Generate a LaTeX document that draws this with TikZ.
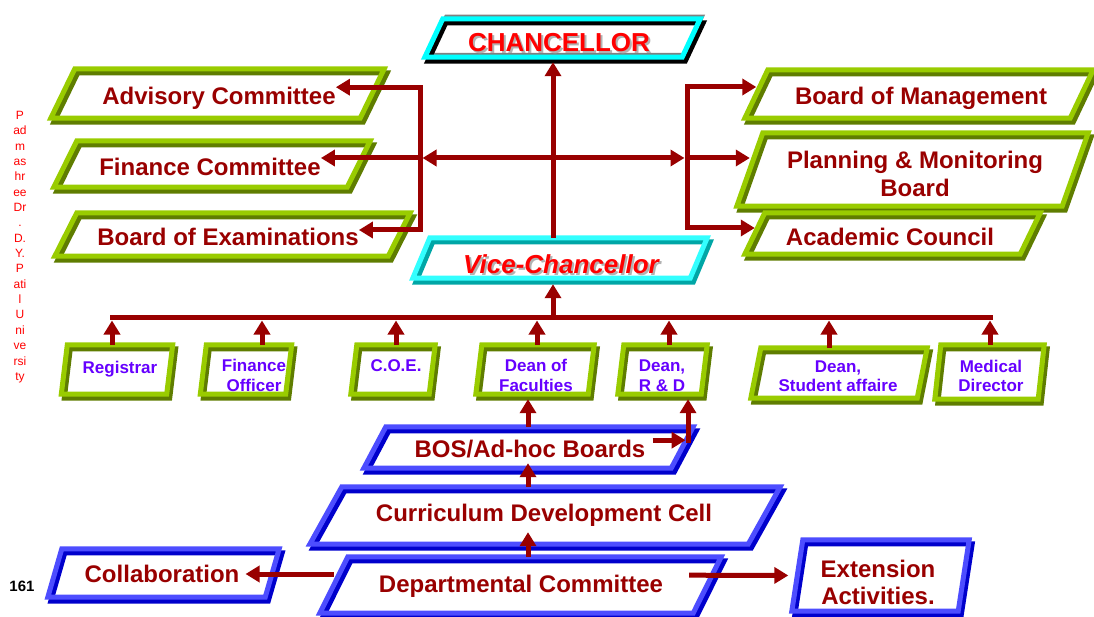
\documentclass[tikz,border=0pt]{standalone}
\usepackage{fontspec}
\setmainfont{Liberation Sans}
\usetikzlibrary{arrows.meta,backgrounds}
\definecolor{arrc}{RGB}{153,0,0}
\definecolor{purp}{RGB}{102,0,255}
\definecolor{glight}{RGB}{153,204,0}
\definecolor{gdark}{RGB}{95,125,0}
\definecolor{blight}{RGB}{77,77,255}
\definecolor{bdark}{RGB}{0,0,204}
\definecolor{clight}{RGB}{51,255,255}
\definecolor{cdark}{RGB}{0,166,166}
\definecolor{cyanc}{RGB}{0,255,255}
\definecolor{redc}{RGB}{255,0,0}
\newcommand\pgp[2]{([xshift={-0.5*#2}]#1.south west) -- ([xshift={0.5*#2}]#1.north west) -- ([xshift={0.5*#2}]#1.north east) -- ([xshift={-0.5*#2}]#1.south east) -- cycle}
\newcommand\frameit[4]{%
  \fill[white] \pgp{#1}{#2};
  \draw[#4, line width=5pt, line join=miter, transform canvas={xshift=3pt,yshift=-4pt}] \pgp{#1}{#2};
  \draw[#3, line width=5pt, line join=miter] \pgp{#1}{#2};}
\newcommand\shad[1]{\makebox[0pt][l]{\hspace{2pt}\raisebox{-2pt}{\color{black!30}#1}}#1}
\begin{document}
\begin{tikzpicture}[x=1pt,y=-1pt,
  big/.style={font=\fontsize{24}{28}\selectfont\bfseries, text=arrc, inner sep=0pt, align=center},
  one/.style={text height=17.2pt, text depth=0pt},
  sml/.style={font=\fontsize{17}{19.5}\selectfont\bfseries, text=purp, inner sep=0pt, align=center},
  sone/.style={text height=12.2pt, text depth=0pt},
  fr/.style={inner sep=0pt, draw=none},
  arr/.style={draw=arrc, line width=5pt, -{Triangle[length=14pt,width=16pt]}},
  barr/.style={draw=arrc, line width=5pt, line join=miter, {Triangle[length=14pt,width=16pt]}-{Triangle[length=14pt,width=16pt]}},
  ln/.style={draw=arrc, line width=5pt}]
\useasboundingbox (0,0) rectangle (1094,617);

% frames (named box nodes)
\node[fr, minimum width=257pt, minimum height=38pt] (chanF) at (562.5,38) {};
\node[fr, minimum width=309pt, minimum height=49pt] (advF) at (217.5,93.5) {};
\node[fr, minimum width=293pt, minimum height=46pt] (finF) at (212,164) {};
\node[fr, minimum width=333pt, minimum height=43pt] (boeF) at (232.5,234.5) {};
\node[fr, minimum width=325pt, minimum height=48pt] (bomF) at (919,94) {};
\node[fr, minimum width=325pt, minimum height=73pt] (pmbF) at (912.5,169.5) {};
\node[fr, minimum width=275pt, minimum height=41pt] (accF) at (892.5,233.5) {};
\node[fr, minimum width=277pt, minimum height=40pt] (vcF) at (560,258) {};
\node[fr, minimum width=105pt, minimum height=49pt] (regF) at (117,369.5) {};
\node[fr, minimum width=85pt, minimum height=49pt] (foF) at (246,369.5) {};
\node[fr, minimum width=78pt, minimum height=49pt] (coeF) at (393,369.5) {};
\node[fr, minimum width=112pt, minimum height=49pt] (dofF) at (535,369.5) {};
\node[fr, minimum width=83pt, minimum height=49pt] (drdF) at (662.5,369.5) {};
\node[fr, minimum width=166pt, minimum height=50pt] (dsaF) at (839,373) {};
\node[fr, minimum width=103pt, minimum height=54pt] (mdF) at (989.5,372) {};
\node[fr, minimum width=307pt, minimum height=41pt] (bosF) at (528.5,447.5) {};
\node[fr, minimum width=438pt, minimum height=57pt] (cdcF) at (545,515.5) {};
\node[fr, minimum width=373pt, minimum height=56pt] (dcF) at (520.5,585) {};
\node[fr, minimum width=217pt, minimum height=48pt] (colF) at (163.5,573) {};
\node[fr, minimum width=166pt, minimum height=71pt] (extF) at (880.5,575.5) {};

% texts
\node[big, one, font=\fontsize{26}{30}\selectfont\bfseries, text=redc, text height=18.6pt] (chan) at (559,42) {\shad{CHANCELLOR}};
\node[big, one] (adv) at (219,96) {Advisory Committee};
\node[big, one] (fin) at (210,167) {Finance Committee};
\node[big, one] (boe) at (228,237) {Board of Examinations};
\node[big, one] (bom) at (921,96) {Board of Management};
\node[big] (pmb) at (915,174) {Planning \& Monitoring\\Board};
\node[big, one] (acc) at (890,237) {Academic Council};
\node[big, one, font=\fontsize{26}{30}\selectfont\bfseries\itshape, text=redc, text height=18.6pt] (vc) at (561,264) {\shad{Vice-Chancellor}};
\node[sml, sone] (reg) at (120,367) {Registrar};
\node[sml] (fo) at (254,375.5) {Finance\\Officer};
\node[sml, sone] (coe) at (396,365) {C.O.E.};
\node[sml] (dof) at (536,375.5) {Dean of\\Faculties};
\node[sml] (drd) at (662,375.5) {Dean,\\R \& D};
\node[sml] (dsa) at (838,376) {Dean,\\Student affaire};
\node[sml] (md) at (991,376) {Medical\\Director};
\node[big, one] (bos) at (530,449) {BOS/Ad-hoc Boards};
\node[big, one] (cdc) at (544,513) {Curriculum Development Cell};
\node[big, one] (dc) at (521,584) {Departmental Committee};
\node[big, one] (col) at (162,574) {Collaboration};
\node[big, font=\fontsize{24}{27}\selectfont\bfseries] (ext) at (878,582.5) {Extension\\Activities.};
\node[font=\fontsize{15}{18}\selectfont\bfseries, inner sep=0pt] (num) at (22,586) {161};
\node[font=\fontsize{12}{15.35}\selectfont, text=redc, align=center, inner sep=0pt] (side) at (20,247)
  {P\\ad\\m\\as\\hr\\ee\\Dr\\.\\D.\\Y.\\P\\ati\\l\\U\\ni\\ve\\rsi\\ty};

% frames drawn behind
\begin{scope}[on background layer]
  \fill[white] \pgp{chanF}{18};
  \draw[gray, line width=2.5pt, line join=miter, transform canvas={xshift=3pt,yshift=3pt}] \pgp{chanF}{18};
  \draw[black, line width=5pt, line join=miter, transform canvas={xshift=3pt,yshift=-4pt}] \pgp{chanF}{18};
  \draw[cyanc, line width=5pt, line join=miter] \pgp{chanF}{18};
  \frameit{advF}{24}{glight}{gdark}
  \frameit{finF}{23}{glight}{gdark}
  \frameit{boeF}{22}{glight}{gdark}
  \frameit{bomF}{23}{glight}{gdark}
  \frameit{pmbF}{26}{glight}{gdark}
  \frameit{accF}{20}{glight}{gdark}
  \frameit{vcF}{17}{clight}{cdark}
  \frameit{regF}{6}{glight}{gdark}
  \frameit{foF}{6}{glight}{gdark}
  \frameit{coeF}{6}{glight}{gdark}
  \frameit{dofF}{6}{glight}{gdark}
  \frameit{drdF}{6}{glight}{gdark}
  \frameit{dsaF}{10}{glight}{gdark}
  \frameit{mdF}{6}{glight}{gdark}
  \frameit{bosF}{22}{blight}{bdark}
  \frameit{cdcF}{32}{blight}{bdark}
  \frameit{dcF}{28}{blight}{bdark}
  \frameit{colF}{14}{blight}{bdark}
  \frameit{extF}{11}{blight}{bdark}
\end{scope}

% junction coordinates
\coordinate (sp) at (553,158);
\coordinate (lb) at (420,158);
\coordinate (lbT) at (lb |- adv.north east);
\coordinate (lbB) at (420,230);
\coordinate (rb) at (687,158);
\coordinate (rbT) at (687,87);
\coordinate (rbB) at (687,228);
\coordinate (b1) at (112,318);
\coordinate (b2) at (262,318);
\coordinate (b3) at (396,318);
\coordinate (b4) at (537,318);
\coordinate (b5) at (669,318);
\coordinate (b6) at (829,318);
\coordinate (b7) at (990,318);
\coordinate (cA) at (528,449);
\coordinate (bc) at ([xshift=42.5pt]bos.north east);

% upper connectors
\draw[arr, shorten >=5pt] (sp |- vcF.north) -- (sp |- chanF.south);
\draw[arr, shorten >=2.5pt] (sp) -- (lb);
\draw[arr, shorten >=2.5pt] (sp) -- (rb);
\draw[barr] (adv.north east) -- (lbT) -- (lbB) -- (boe.east |- lbB);
\draw[arr] (lb) -- (fin.east |- lb);
\draw[barr] (bomF.west |- rbT) -- (rbT) -- (rbB) -- (accF.west |- rbB);
\draw[arr] (rb) -- (pmbF.west |- rb);

% bus
\draw[ln, line cap=rect] (b1) -- (b7);
\draw[arr, shorten >=6pt] (sp |- b1) -- (sp |- vcF.south);
\draw[arr, shorten >=2.5pt] (b1 |- regF.north) -- (b1);
\draw[arr, shorten >=2.5pt] (b2 |- foF.north) -- (b2);
\draw[arr, shorten >=2.5pt] (b3 |- coeF.north) -- (b3);
\draw[arr, shorten >=2.5pt] (b4 |- dofF.north) -- (b4);
\draw[arr, shorten >=2.5pt] (b5 |- drdF.north) -- (b5);
\draw[arr, shorten >=2.5pt] (b6 |- dsaF.north) -- (b6);
\draw[arr, shorten >=2.5pt] (b7 |- mdF.north) -- (b7);

% lower connectors
\draw[arr, shorten >=-12pt] (cA |- dcF.north) -- (cA |- cdcF.south);
\draw[arr, shorten >=-5pt] (cA |- cdcF.north) -- (cA |- bosF.south);
\draw[arr, shorten >=5pt] (cA |- bosF.north) -- (cA |- dofF.south);
\draw[arr, shorten >=2.5pt] ([xshift=7pt]bos.north east) -- (bc);
\draw[arr, shorten >=5pt] ([yshift=-3pt]bc) -- (bc |- drdF.south);
\draw[arr] (dcF.west |- col.east) -- ([xshift=6pt]col.east);
\draw[arr, shorten >=9pt] ([xshift=26pt]dc.north east) -- (extF.west);
\end{tikzpicture}
\end{document}
